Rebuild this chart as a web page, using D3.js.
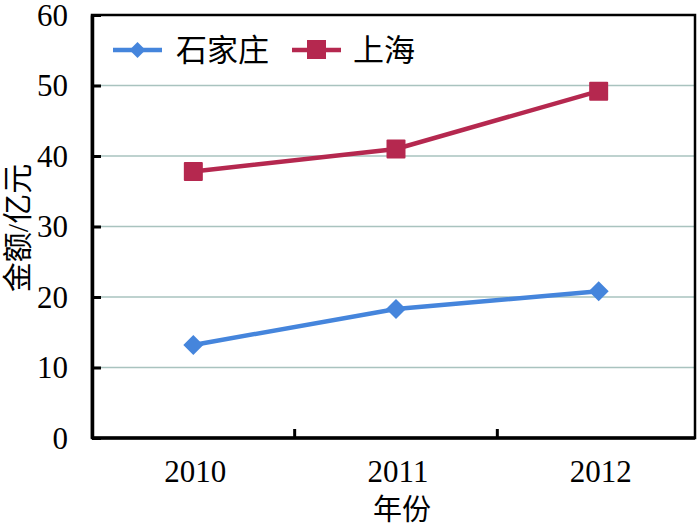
<!DOCTYPE html>
<html><head><meta charset="utf-8">
<script src="https://cdn.jsdelivr.net/npm/d3@7"></script>
<style>
body{margin:0;background:#fff;}
text{font-family:"Liberation Serif","Noto Sans CJK SC",serif;fill:#000;}
</style></head>
<body><svg id="c" width="700" height="528"></svg>
<script>
const years = ["2010","2011","2012"];
const shijiazhuang = [13.2, 18.3, 20.8];
const shanghai = [37.8, 41.0, 49.2];
const yTicks = [0,10,20,30,40,50,60];
const seriesNames = ["石家庄","上海"];

const svg = d3.select("#c");
const L=92, R=695, T=15, B=438;
const x = d3.scaleBand().domain(years).range([L,700]);
const y = d3.scaleLinear().domain([0,60]).range([B,T]);

// gridlines
svg.append("g").selectAll("line").data(yTicks.filter(v=>v>0&&v<60)).join("line")
  .attr("x1",L).attr("x2",R).attr("y1",d=>y(d)).attr("y2",d=>y(d))
  .attr("stroke","#a9c3bf").attr("stroke-width",1.6);

// frame
svg.append("rect").attr("x",L).attr("y",T).attr("width",R-L).attr("height",B-T)
  .attr("fill","none").attr("stroke","#000").attr("stroke-width",2.5);

// y axis
const ya = svg.append("g").attr("transform",`translate(${L},0)`)
  .call(d3.axisLeft(y).tickValues(yTicks).tickSizeInner(-9).tickSizeOuter(0).tickPadding(24));
ya.attr("font-family",null);
ya.select(".domain").attr("stroke","#000").attr("stroke-width",3.5);
ya.selectAll(".tick line").attr("stroke","#000").attr("stroke-width",3);
ya.selectAll(".tick text").style("font-size","31px").style("font-family","'Liberation Serif', serif").attr("dy","0.33em");

// x axis
const xa = svg.append("g").attr("transform",`translate(0,${B})`)
  .call(d3.axisBottom(x).tickSize(0).tickPadding(22));
xa.attr("font-family",null);
xa.select(".domain").attr("d",`M${L},0H${R}`).attr("stroke","#000").attr("stroke-width",3.5);
xa.selectAll(".tick text").style("font-size","31px").style("font-family","'Liberation Serif', serif").attr("dx",2);
// inner tick marks at band boundaries
svg.append("g").selectAll("line").data(years.slice(1)).join("line")
  .attr("x1",d=>x(d)).attr("x2",d=>x(d)).attr("y1",B).attr("y2",B-9)
  .attr("stroke","#000").attr("stroke-width",3);

const cx = d=>x(d)+x.bandwidth()/2;
const line = d3.line().x((d,i)=>cx(years[i])).y(d=>y(d));

const blue="#4585dc", red="#b5284f";
svg.append("path").datum(shijiazhuang).attr("d",line).attr("fill","none").attr("stroke",blue).attr("stroke-width",4.5);
svg.append("path").datum(shanghai).attr("d",line).attr("fill","none").attr("stroke",red).attr("stroke-width",4.5);

const diamond = (px,py,s)=>`M${px},${py-s}L${px+s},${py}L${px},${py+s}L${px-s},${py}Z`;
svg.append("g").selectAll("path").data(shijiazhuang).join("path")
  .attr("d",(d,i)=>diamond(cx(years[i]),y(d),10)).attr("fill",blue);
svg.append("g").selectAll("rect").data(shanghai).join("rect")
  .attr("x",(d,i)=>cx(years[i])-9.5).attr("y",d=>y(d)-9.5).attr("width",19).attr("height",19)
  .attr("fill",red).attr("rx",1);

// legend
const lg = svg.append("g");
lg.append("line").attr("x1",113).attr("x2",162).attr("y1",50).attr("y2",50).attr("stroke",blue).attr("stroke-width",4.5);
lg.append("path").attr("d",diamond(137.5,50,8)).attr("fill",blue);
lg.append("text").attr("x",176).attr("y",61).attr("font-size",31).text(seriesNames[0]);
lg.append("line").attr("x1",292).attr("x2",341).attr("y1",50).attr("y2",50).attr("stroke",red).attr("stroke-width",4.5);
lg.append("rect").attr("x",307).attr("y",40).attr("width",19).attr("height",19).attr("fill",red);
lg.append("text").attr("x",353).attr("y",61).attr("font-size",31).text(seriesNames[1]);

// axis titles
svg.append("text").attr("x",402).attr("y",520).attr("text-anchor","middle").attr("font-size",29).text("年份");
svg.append("text").attr("transform","translate(28,228) rotate(-90)").attr("text-anchor","middle").attr("font-size",30).text("金额/亿元");
</script></body></html>
